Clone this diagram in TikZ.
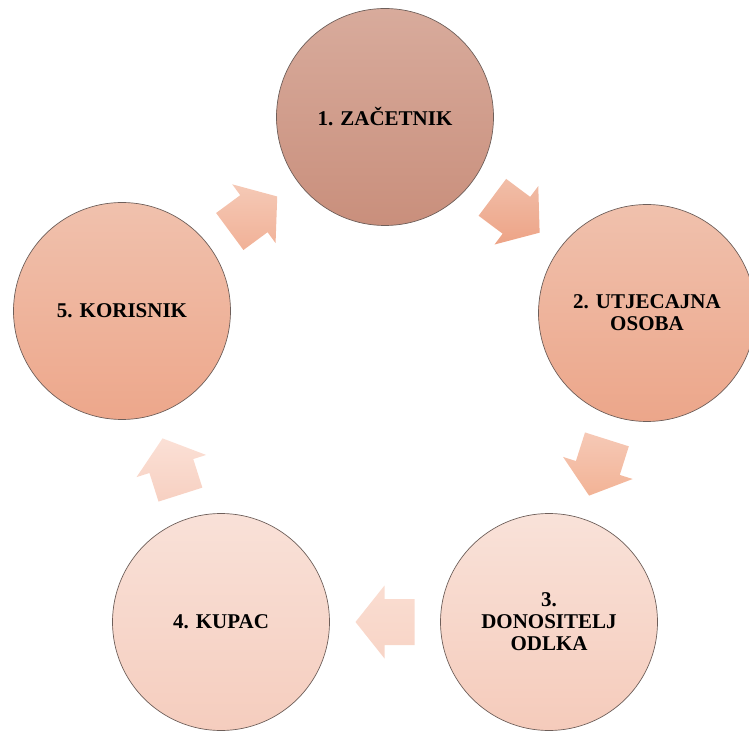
\documentclass[tikz,border=0pt]{standalone}
\usepackage{fontspec}
\setmainfont{Liberation Serif}
\usetikzlibrary{calc}
\definecolor{ctopA}{HTML}{D8AB9C}\definecolor{cbotA}{HTML}{C98F7C}
\definecolor{ctopB}{HTML}{F0C1AD}\definecolor{cbotB}{HTML}{ECA68A}
\definecolor{ctopC}{HTML}{F9E2D9}\definecolor{cbotC}{HTML}{F5CBBB}
\definecolor{ctopD}{HTML}{F9E1D8}\definecolor{cbotD}{HTML}{F5CDBE}
\definecolor{ctopE}{HTML}{F0C1AD}\definecolor{cbotE}{HTML}{EDA78B}
\definecolor{atopA}{HTML}{F1BEA8}\definecolor{abotA}{HTML}{EDA386}
\definecolor{atopB}{HTML}{F6C9B6}\definecolor{abotB}{HTML}{F2B396}
\definecolor{atopC}{HTML}{FADDD1}\definecolor{abotC}{HTML}{F8D4C6}
\definecolor{atopD}{HTML}{FBE0D6}\definecolor{abotD}{HTML}{F7D0C1}
\definecolor{atopE}{HTML}{F5C9B6}\definecolor{abotE}{HTML}{F1B197}
\definecolor{rimcol}{HTML}{6E5F5A}
\newcommand\blockarr[3]{%
  \pgfmathanglebetweenpoints{\pgfpointanchor{#1}{center}}{\pgfpointanchor{#2}{center}}%
  \let\arrang\pgfmathresult
  \begin{scope}[shift={($(#1)!0.5!(#2)$)}, rotate=\arrang]
    \shade[#3] (-29.5,-23) -- (0.5,-23) -- (0.5,-36.5) -- (29.5,0)
      -- (0.5,36.5) -- (0.5,23) -- (-29.5,23) -- cycle;
  \end{scope}}
\begin{document}
\begin{tikzpicture}[x=1pt,y=1pt,
  circ/.style={circle, draw=rimcol, line width=0.7pt, minimum size=217pt,
    inner sep=0pt, align=center,
    font=\bfseries\fontsize{21}{22}\selectfont}]
\useasboundingbox (0,0) rectangle (749,731);
\node[circ, top color=ctopA, bottom color=cbotA] (c1) at (385,614) {1. ZAČETNIK};
\node[circ, top color=ctopB, bottom color=cbotB] (c2) at (647,418) {2. UTJECAJNA\\OSOBA};
\node[circ, top color=ctopC, bottom color=cbotC] (c3) at (549,109) {3.\\DONOSITELJ\\ODLKA};
\node[circ, top color=ctopD, bottom color=cbotD] (c4) at (221,109) {4. KUPAC};
\node[circ, top color=ctopE, bottom color=cbotE] (c5) at (122,420) {5. KORISNIK};
\blockarr{c1}{c2}{top color=atopA, bottom color=abotA}
\blockarr{c2}{c3}{top color=atopB, bottom color=abotB}
\blockarr{c3}{c4}{top color=atopC, bottom color=abotC}
\blockarr{c4}{c5}{top color=atopD, bottom color=abotD}
\blockarr{c5}{c1}{top color=atopE, bottom color=abotE}
\end{tikzpicture}
\end{document}
